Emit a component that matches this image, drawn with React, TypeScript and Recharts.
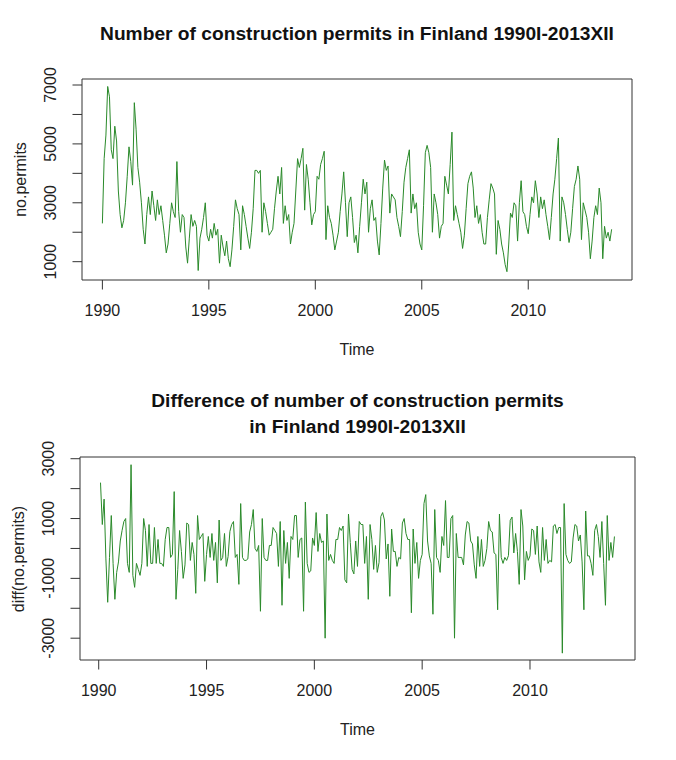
import React from 'react';
import { LineChart, Line, XAxis, YAxis, ReferenceArea } from 'recharts';

// ---- data (monthly, 1990 Jan .. 2013 Dec) ----
const startYear = 1990;

const permits: number[] = [
  2300, 4500, 5300, 6950, 6600, 4800, 4500, 5600, 5100, 3400, 2600, 2150, // 1990
  2400, 3000, 3900, 4900, 4400, 3600, 6400, 5500, 4200, 3700, 3000, 2100, // 1991
  1600, 2600, 3200, 2600, 3400, 2900, 2400, 3100, 2600, 2900, 2400, 1900, // 1992
  1300, 1600, 2300, 3000, 2700, 2500, 4400, 2700, 2000, 2600, 2500, 1500, // 1993
  950, 1800, 2600, 2200, 2400, 2200, 700, 1800, 2100, 2500, 3000, 1900, // 1994
  1700, 2100, 1800, 2300, 1900, 2100, 950, 1900, 1500, 1200, 1700, 1100, // 1995
  830, 1400, 2200, 3100, 2800, 2600, 1400, 2900, 2600, 2200, 1800, 1450, // 1996
  2000, 2800, 4100, 4100, 4000, 4100, 2000, 3000, 2700, 2300, 1900, 2000, // 1997
  2100, 2800, 3400, 3900, 3300, 4200, 2300, 2900, 2400, 2600, 1600, 2000, // 1998
  2300, 3400, 4500, 4200, 4500, 4850, 2750, 4300, 3800, 3000, 2250, 2600, // 1999
  2700, 3900, 3800, 4300, 4500, 4750, 1750, 2900, 2500, 2300, 1900, 1400, // 2000
  1700, 2000, 2700, 3300, 4050, 3000, 1850, 3000, 3200, 2500, 1650, 1900, // 2001
  1300, 2200, 3000, 3800, 3300, 3700, 2000, 2800, 3100, 2400, 2500, 1700, // 2002
  1230, 2300, 3500, 4450, 4100, 4250, 2650, 3300, 3200, 3100, 2500, 2200, // 2003
  1850, 2700, 3700, 4200, 4500, 4800, 2650, 3300, 2800, 3000, 2000, 1600, // 2004
  1400, 2900, 4700, 4950, 4700, 4200, 2000, 3300, 3000, 2600, 1800, 2200, // 2005
  2300, 3900, 3600, 3300, 4300, 5400, 2400, 2900, 2600, 2300, 2000, 1450, // 2006
  1900, 2800, 3650, 3900, 4050, 3500, 2500, 2900, 2300, 2600, 2000, 1600, // 2007
  1600, 2500, 3100, 3650, 3500, 3300, 1250, 2400, 2100, 1600, 1300, 900, // 2008
  660, 1600, 2650, 2500, 3000, 2900, 1700, 3000, 3750, 2700, 2600, 2200, // 2009
  1950, 2600, 3200, 3000, 3750, 3300, 2500, 3200, 2800, 3100, 2600, 2200, // 2010
  1750, 2500, 3300, 3800, 4500, 5200, 1700, 3200, 3000, 2600, 2100, 1650, // 2011
  2000, 2800, 3550, 3800, 4250, 3800, 1750, 3000, 2750, 2500, 2000, 1100, // 2012
  1700, 2500, 2900, 2600, 3500, 3000, 1100, 2200, 1800, 2000, 1700, 2100, // 2013
];

// month-to-month differences, 1990 Feb .. 2013 Dec
const permitsDiff: number[] = [
  2200, 800, 1650, -350, -1800, -300, 1100, -500, -1700, -800, -450, // 1990
  250, 600, 900, 1000, -500, -800, 2800, -900, -1300, -500, -700, -900, // 1991
  -500, 1000, 600, -600, 800, -500, -500, 700, -500, 300, -500, -500, // 1992
  -600, 300, 700, 700, -300, -200, 1900, -1700, -700, 600, -100, -1000, // 1993
  -550, 850, 800, -400, 200, -200, -1500, 1100, 300, 400, 500, -1100, // 1994
  -200, 400, -300, 500, -400, 200, -1150, 950, -400, -300, 500, -600, // 1995
  -270, 570, 800, 900, -300, -200, -1200, 1500, -300, -400, -400, -350, // 1996
  550, 800, 1300, 0, -100, 100, -2100, 1000, -300, -400, -400, 100, // 1997
  100, 700, 600, 500, -600, 900, -1900, 600, -500, 200, -1000, 400, // 1998
  300, 1100, 1100, -300, 300, 350, -2100, 1550, -500, -800, -750, 350, // 1999
  100, 1200, -100, 500, 200, 250, -3000, 1150, -400, -200, -400, -500, // 2000
  300, 300, 700, 600, 750, -1050, -1150, 1150, 200, -700, -850, 250, // 2001
  -600, 900, 800, 800, -500, 400, -1700, 800, 300, -700, 100, -800, // 2002
  -470, 1070, 1200, 950, -350, 150, -1600, 650, -100, -100, -600, -300, // 2003
  -350, 850, 1000, 500, 300, 300, -2150, 650, -500, 200, -1000, -400, // 2004
  -200, 1500, 1800, 250, -250, -500, -2200, 1300, -300, -400, -800, 400, // 2005
  100, 1600, -300, -300, 1000, 1100, -3000, 500, -300, -300, -300, -550, // 2006
  450, 900, 850, 250, 150, -550, -1000, 400, -600, 300, -600, -400, // 2007
  0, 900, 600, 550, -150, -200, -2050, 1150, -300, -500, -300, -400, // 2008
  -240, 940, 1050, -150, 500, -100, -1200, 1300, 750, -1050, -100, -400, // 2009
  -250, 650, 600, -200, 750, -450, -800, 700, -400, 300, -500, -400, // 2010
  -450, 750, 800, 500, 700, 700, -3500, 1500, -200, -400, -500, -450, // 2011
  350, 800, 750, 250, 450, -450, -2050, 1250, -250, -250, -500, -900, // 2012
  600, 800, 400, -300, 900, -500, -1900, 1100, -400, 200, -300, 400, // 2013
];

const xTicks = [1990, 1995, 2000, 2005, 2010];
const topYTicks = [1000, 2000, 3000, 4000, 5000, 6000, 7000];
const topYLabels = [1000, 3000, 5000, 7000];
const bottomYTicks = [-3000, -2000, -1000, 0, 1000, 2000, 3000];
const bottomYLabels = [-3000, -1000, 1000, 3000];

const topTitle = 'Number of construction permits in Finland 1990I-2013XII';
const bottomTitle = ['Difference of number of construction permits', 'in Finland 1990I-2013XII'];
const xTitle = 'Time';
const topYTitle = 'no.permits';
const bottomYTitle = 'diff(no.permits)';

const topRows = permits.map((v, i) => ({ t: startYear + i / 12, v }));
const bottomRows = permitsDiff.map((v, i) => ({ t: startYear + (i + 1) / 12, v }));

// ---- styles ----
const FONT = '"Liberation Sans", Arial, Helvetica, sans-serif';
const LINE = '#2a8a2a';
const INK = '#222';
const BOX = '#333';

const makeXTick = (baseDy: number) => (props: any) => {
  const { x, payload } = props;
  return (
    <text x={x} y={baseDy} textAnchor="middle" fontFamily={FONT} fontSize={16} fill={INK}>
      {payload.value}
    </text>
  );
};

const makeYTick = (labels: number[], bx: number) => (props: any) => {
  const { y, payload } = props;
  if (!labels.includes(payload.value)) return <g />;
  return (
    <text
      x={bx}
      y={y}
      transform={`rotate(-90, ${bx}, ${y})`}
      textAnchor="middle"
      fontFamily={FONT}
      fontSize={16}
      fill={INK}
    >
      {payload.value}
    </text>
  );
};

interface PanelProps {
  rows: { t: number; v: number }[];
  xDomain: [number, number];
  yDomain: [number, number];
  yTicks: number[];
  yLabels: number[];
  margin: { top: number; right: number; left: number; bottom: number };
  yWidth: number;
}

const Panel = ({ rows, xDomain, yDomain, yTicks, yLabels, margin, yWidth }: PanelProps) => {
  const plotBottom = 380 - 100;
  return (
    <LineChart width={676} height={380} data={rows} margin={margin}>
      <XAxis
        dataKey="t"
        type="number"
        domain={xDomain}
        allowDataOverflow
        ticks={xTicks}
        interval={0}
        height={100}
        tickSize={9.5}
        axisLine={false}
        tickLine={{ stroke: BOX, strokeWidth: 1 }}
        tick={makeXTick(plotBottom + 36)}
      />
      <YAxis
        type="number"
        domain={yDomain}
        allowDataOverflow
        ticks={yTicks}
        interval={0}
        width={yWidth}
        tickSize={9.5}
        axisLine={false}
        tickLine={{ stroke: BOX, strokeWidth: 1 }}
        tick={makeYTick(yLabels, yWidth - 25.5)}
      />
      <Line
        type="linear"
        dataKey="v"
        stroke={LINE}
        strokeWidth={1}
        dot={false}
        activeDot={false}
        isAnimationActive={false}
      />
      <ReferenceArea
        x1={xDomain[0]}
        x2={xDomain[1]}
        y1={yDomain[0]}
        y2={yDomain[1]}
        fill="none"
        fillOpacity={0}
        stroke={BOX}
        strokeWidth={1}
        ifOverflow="visible"
      />
    </LineChart>
  );
};

export default function App() {
  return (
    <div style={{ position: 'absolute', left: 0, top: 0, width: 676, height: 760, background: '#fff' }}>
      <div style={{ position: 'absolute', left: 0, top: 0 }}>
        <Panel
          rows={topRows}
          xDomain={[1989.043, 2014.873]}
          yDomain={[378, 7204]}
          yTicks={topYTicks}
          yLabels={topYLabels}
          margin={{ top: 79, right: 44, left: 0, bottom: 0 }}
          yWidth={82}
        />
      </div>
      <div style={{ position: 'absolute', left: 0, top: 380 }}>
        <Panel
          rows={bottomRows}
          xDomain={[1989.132, 2014.87]}
          yDomain={[-3729, 3057]}
          yTicks={bottomYTicks}
          yLabels={bottomYLabels}
          margin={{ top: 77, right: 41, left: 0, bottom: 0 }}
          yWidth={80}
        />
      </div>
      <svg
        width={676}
        height={760}
        style={{ position: 'absolute', left: 0, top: 0, pointerEvents: 'none' }}
      >
        <text x={357} y={40} textAnchor="middle" fontFamily={FONT} fontSize={19.2} fontWeight="bold" fill="#111">
          {topTitle}
        </text>
        <text x={357.5} y={407} textAnchor="middle" fontFamily={FONT} fontSize={19.2} fontWeight="bold" fill="#111">
          {bottomTitle[0]}
        </text>
        <text x={357.5} y={433} textAnchor="middle" fontFamily={FONT} fontSize={19.2} fontWeight="bold" fill="#111">
          {bottomTitle[1]}
        </text>
        <text x={357} y={355} textAnchor="middle" fontFamily={FONT} fontSize={16} fill={INK}>
          {xTitle}
        </text>
        <text x={357.5} y={735} textAnchor="middle" fontFamily={FONT} fontSize={16} fill={INK}>
          {xTitle}
        </text>
        <text
          x={25.5}
          y={179.5}
          transform="rotate(-90, 25.5, 179.5)"
          textAnchor="middle"
          fontFamily={FONT}
          fontSize={16}
          fill={INK}
        >
          {topYTitle}
        </text>
        <text
          x={23.5}
          y={559}
          transform="rotate(-90, 23.5, 559)"
          textAnchor="middle"
          fontFamily={FONT}
          fontSize={16}
          fill={INK}
        >
          {bottomYTitle}
        </text>
      </svg>
    </div>
  );
}
